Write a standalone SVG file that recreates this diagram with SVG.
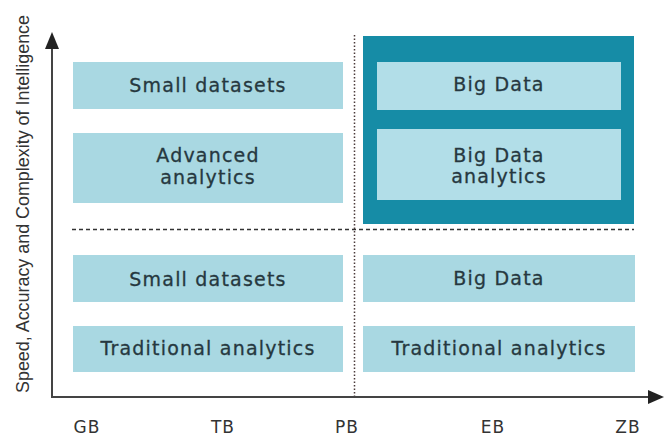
<svg xmlns="http://www.w3.org/2000/svg" width="666" height="436" viewBox="0 0 666 436">
<style>
.box{fill:#a9d8e2}
.ibox{fill:#b2dee8}
.lbl{font-family:"DejaVu Sans",sans-serif;font-size:19px;letter-spacing:1.2px;fill:#263840;text-anchor:middle;stroke:#263840;stroke-width:0.3}
.ax{font-family:"DejaVu Sans",sans-serif;font-size:17px;letter-spacing:1px;fill:#333;text-anchor:middle}
.axis{stroke:#444;stroke-width:2;fill:none}
</style>
<rect width="666" height="436" fill="#fff"/>
<g id="highlight">
<rect x="363" y="36" width="271" height="188" fill="#168ca6"/>
</g>
<g id="tl1"><rect class="box" x="73" y="62" width="270" height="47"/><text class="lbl" x="208" y="92">Small datasets</text></g>
<g id="tl2"><rect class="box" x="73" y="133" width="270" height="70"/><text class="lbl" x="208" y="162">Advanced</text><text class="lbl" x="208" y="184">analytics</text></g>
<g id="tr1"><rect class="ibox" x="377" y="62" width="244" height="48"/><text class="lbl" x="499" y="91">Big Data</text></g>
<g id="tr2"><rect class="ibox" x="377" y="129" width="244" height="71"/><text class="lbl" x="499" y="162">Big Data</text><text class="lbl" x="499" y="183">analytics</text></g>
<g id="bl1"><rect class="box" x="73" y="255" width="270" height="47"/><text class="lbl" x="208" y="286">Small datasets</text></g>
<g id="bl2"><rect class="box" x="73" y="326" width="270" height="46"/><text class="lbl" x="208" y="355">Traditional analytics</text></g>
<g id="br1"><rect class="box" x="363" y="255" width="272" height="47"/><text class="lbl" x="499" y="285">Big Data</text></g>
<g id="br2"><rect class="box" x="363" y="326" width="272" height="46"/><text class="lbl" x="499" y="355">Traditional analytics</text></g>
<g id="connectors">
<line x1="72" y1="229.5" x2="634" y2="229.5" stroke="#333" stroke-width="1.3" stroke-dasharray="4 3"/>
<line x1="354.5" y1="35" x2="354.5" y2="397" stroke="#4a3a3a" stroke-width="1.5" stroke-dasharray="1.5 2"/>
<polyline class="axis" points="52,48 52,397 650,397"/>
<path d="M45,49 L52,32 L59,49 Z" fill="#222"/>
<path d="M648,390 L664,397 L648,404 Z" fill="#222"/>
</g>
<g id="axis-labels">
<text class="ax" x="87" y="433">GB</text>
<text class="ax" x="223" y="433">TB</text>
<text class="ax" x="347" y="433">PB</text>
<text class="ax" x="493" y="433">EB</text>
<text class="ax" x="628" y="433">ZB</text>
<text font-family="'Liberation Sans',sans-serif" font-size="18" fill="#333" text-anchor="middle" transform="translate(29,204) rotate(-90)" textLength="378" lengthAdjust="spacingAndGlyphs">Speed, Accuracy and Complexity of Intelligence</text>
</g>
</svg>
